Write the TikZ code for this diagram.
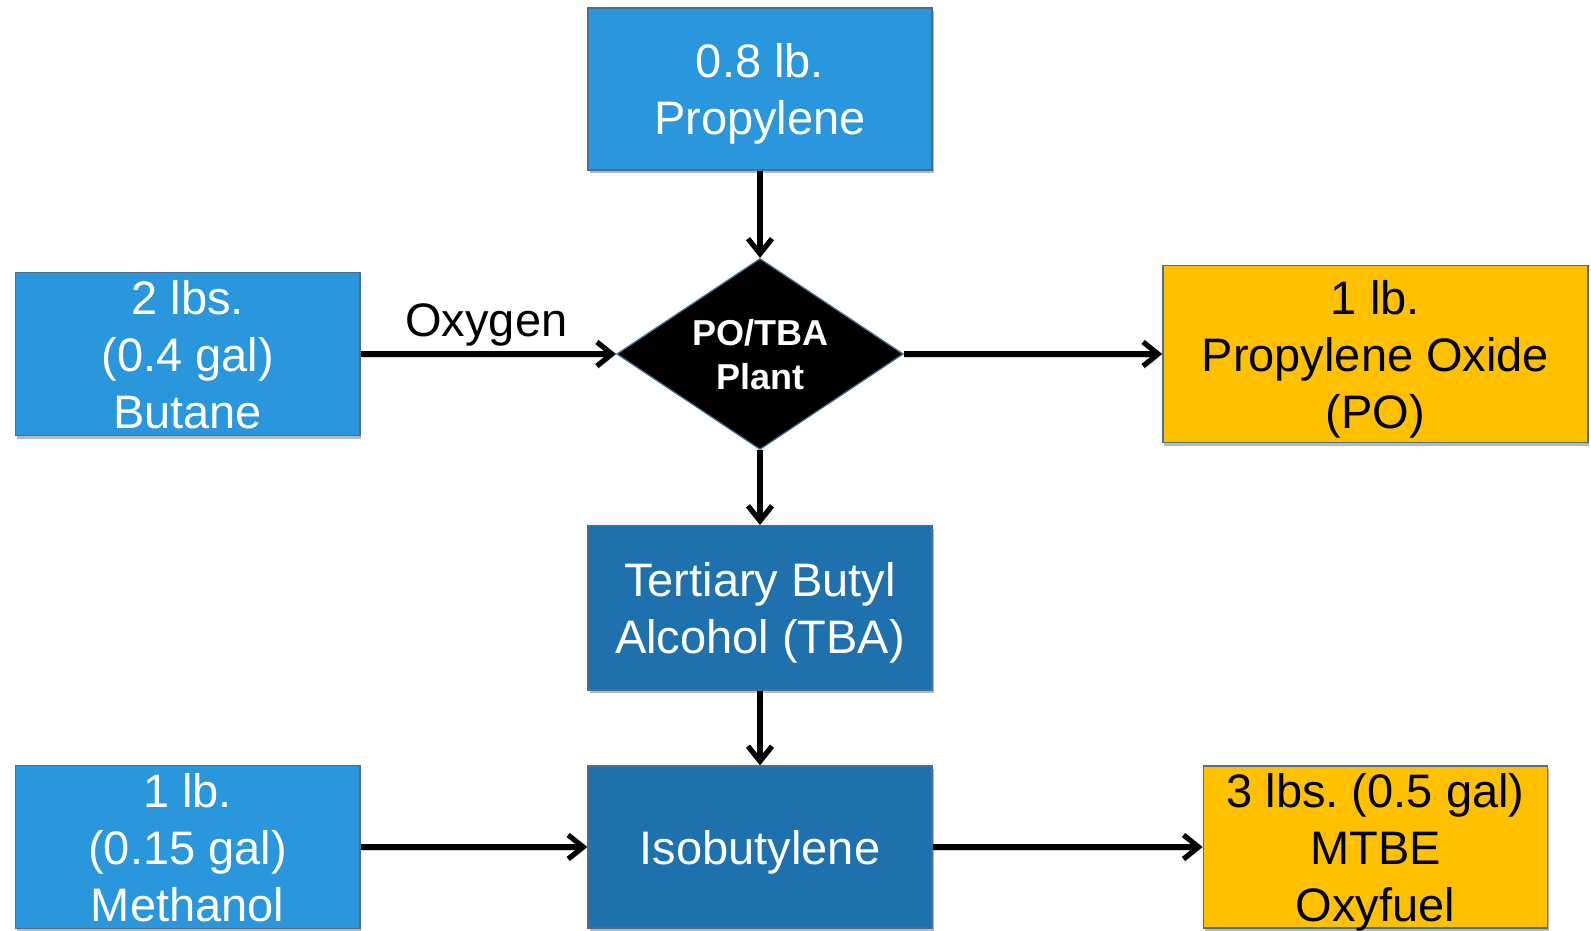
\documentclass[tikz,border=0pt]{standalone}
\usepackage{fontspec}
\setmainfont{Liberation Sans}
\usetikzlibrary{shapes.geometric,arrows.meta,shadows}
\definecolor{boxblue}{HTML}{2A96DC}
\definecolor{boxdark}{HTML}{1F71AE}
\definecolor{boxgold}{HTML}{FFC000}
\definecolor{edgecol}{HTML}{4A6E8E}
\frenchspacing
\begin{document}
\begin{tikzpicture}[x=1pt,y=-1pt,
  boxshadow/.style={drop shadow={shadow xshift=1.5pt,shadow yshift=-3pt,opacity=.28,fill=black}},
  flowbox/.style={rectangle,draw=edgecol,line width=1.3pt,inner sep=0pt,align=center,
    font=\fontsize{47}{57}\selectfont,text depth=0pt,boxshadow},
  bluebox/.style={flowbox,fill=boxblue,text=white},
  darkbox/.style={flowbox,fill=boxdark,text=white},
  goldbox/.style={flowbox,fill=boxgold,text=black},
  plantshape/.style={diamond,aspect=1.5,draw=edgecol,line width=1.3pt,fill=black,text=white,inner sep=0pt,
    align=center,font=\fontsize{36}{44}\selectfont\bfseries,text depth=0pt},
  flow/.style={line width=5.2pt,-{Straight Barb[length=15pt,width=24pt]},
    preaction={draw=black,opacity=.18,transform canvas={xshift=1pt,yshift=-3pt}}},
  flowlabel/.style={font=\fontsize{47}{57}\selectfont,text=black,inner sep=0pt}
]
\useasboundingbox (0,0) rectangle (1591,930);

\node[bluebox,minimum width=344pt,minimum height=162pt] (prop) at (760,89) {0.8 lb.\\Propylene};
\node[bluebox,minimum width=344.7pt,minimum height=163pt] (butane) at (187.6,354) {2 lbs.\\(0.4 gal)\\Butane};
\node[plantshape,minimum width=286.6pt,minimum height=191pt] (plant) at (760,354) {PO/TBA\\Plant};
\node[goldbox,minimum width=425pt,minimum height=177.6pt] (po) at (1375.4,354) {1 lb.\\Propylene Oxide\\(PO)};
\node[darkbox,minimum width=344pt,minimum height=164.4pt] (tba) at (760,607.8) {Tertiary Butyl\\Alcohol (TBA)};
\node[darkbox,minimum width=344pt,minimum height=162pt] (iso) at (760,847) {Isobutylene};
\node[bluebox,minimum width=344.7pt,minimum height=163pt] (meth) at (187.6,847) {1 lb.\\(0.15 gal)\\Methanol};
\node[goldbox,minimum width=344.4pt,minimum height=162pt] (mtbe) at (1375.5,847) {3 lbs. (0.5 gal)\\MTBE\\Oxyfuel};

\draw[flow] (prop.south) -- (plant.north);
\draw[flow] (butane.east) -- node[flowlabel,anchor=base,yshift=18pt,xshift=-2pt] (oxy) {Oxygen} (plant.west);
\draw[flow] (plant.east) -- (po.west);
\draw[flow] (plant.south) -- (tba.north);
\draw[flow] (tba.south) -- (iso.north);
\draw[flow] (meth.east) -- (iso.west);
\draw[flow] (iso.east) -- (mtbe.west);
\end{tikzpicture}
\end{document}
